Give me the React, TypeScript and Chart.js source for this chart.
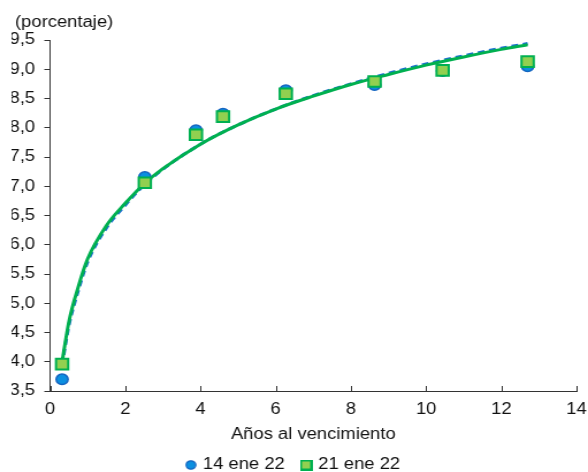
import { useEffect, useRef } from 'react';
import { Chart, registerables } from 'chart.js';

Chart.register(...registerables);

// Observed yields (porcentaje) vs years to maturity
const maturities = [0.32, 2.52, 3.88, 4.6, 6.27, 8.63, 10.44, 12.7];
const yields14Ene = [3.7, 7.16, 7.96, 8.24, 8.64, 8.73, 8.97, 9.05];
const yields21Ene = [3.96, 7.06, 7.88, 8.19, 8.58, 8.79, 8.98, 9.13];

// Fitted curves
const curveX = [0.32, 0.5, 0.75, 1, 1.5, 2, 2.5, 3, 4, 5, 6, 7, 8, 9, 10, 11, 12, 12.7];
const curve14Ene = [3.95, 4.62, 5.22, 5.71, 6.29, 6.68, 7.02, 7.29, 7.72, 8.05, 8.32, 8.55, 8.75, 8.93, 9.09, 9.23, 9.36, 9.44];
const curve21Ene = [4.0, 4.68, 5.28, 5.76, 6.33, 6.71, 7.04, 7.3, 7.72, 8.05, 8.32, 8.54, 8.74, 8.91, 9.07, 9.21, 9.34, 9.42];

const seriesLabels = ['14 ene 22', '21 ene 22'];
const yAxisNote = '(porcentaje)';
const xAxisTitle = 'Años al vencimiento';

const W = 511;
const H = 472;
const FONT = '"Liberation Sans", Arial, sans-serif';

const BLUE_FILL = '#0b8fe0';
const BLUE_EDGE = '#1565c0';
const GREEN_FILL = '#92d050';
const GREEN_EDGE = '#00b050';

const toPts = (xs: number[], ys: number[]) => xs.map((x, i) => ({ x, y: ys[i] }));

function makeIcon(kind: 'circle' | 'rect') {
  const c = document.createElement('canvas');
  const s = kind === 'circle' ? 10 : 11;
  c.width = s;
  c.height = s;
  const g = c.getContext('2d')!;
  if (kind === 'circle') {
    g.beginPath();
    g.arc(s / 2, s / 2, s / 2 - 0.8, 0, Math.PI * 2);
    g.fillStyle = BLUE_FILL;
    g.fill();
    g.lineWidth = 1.2;
    g.strokeStyle = BLUE_EDGE;
    g.stroke();
  } else {
    g.fillStyle = GREEN_FILL;
    g.fillRect(1, 1, s - 2, s - 2);
    g.lineWidth = 2;
    g.strokeStyle = GREEN_EDGE;
    g.strokeRect(1, 1, s - 2, s - 2);
  }
  return c;
}

export default function App() {
  const ref = useRef<HTMLCanvasElement>(null);

  useEffect(() => {
    const icons = [makeIcon('circle'), makeIcon('rect')];
    const extras = {
      id: 'extras',
      afterDraw(chart: any) {
        const { ctx, chartArea, scales } = chart;
        const xs = scales.x;
        ctx.save();
        ctx.strokeStyle = '#333';
        ctx.lineWidth = 1;
        xs.ticks.forEach((t: any) => {
          const px = Math.round(xs.getPixelForValue(t.value)) + 0.5;
          ctx.beginPath();
          ctx.moveTo(px, chartArea.bottom);
          ctx.lineTo(px, chartArea.bottom - 5);
          ctx.stroke();
        });
        ctx.fillStyle = '#111';
        ctx.font = `16px ${FONT}`;
        ctx.textBaseline = 'middle';
        ctx.textAlign = 'left';
        ctx.fillText(yAxisNote, 13, 23);
        ctx.restore();
      },
    };

    const chart = new Chart(ref.current!, {
      type: 'scatter',
      data: {
        datasets: [
          {
            label: seriesLabels[0],
            data: toPts(maturities, yields14Ene),
            pointStyle: 'circle',
            pointRadius: 5.2,
            pointBackgroundColor: BLUE_FILL,
            pointBorderColor: BLUE_EDGE,
            pointBorderWidth: 1.5,
            backgroundColor: BLUE_FILL,
            borderColor: BLUE_EDGE,
            borderWidth: 1.5,
            order: 1,
          },
          {
            label: seriesLabels[1],
            data: toPts(maturities, yields21Ene),
            pointStyle: 'rect',
            pointRadius: 7.5,
            pointBackgroundColor: GREEN_FILL,
            pointBorderColor: GREEN_EDGE,
            pointBorderWidth: 2,
            backgroundColor: GREEN_FILL,
            borderColor: GREEN_EDGE,
            borderWidth: 2,
            order: 0,
          },
          {
            label: 'curve14',
            data: toPts(curveX, curve14Ene),
            showLine: true,
            pointRadius: 0,
            borderColor: '#1a6fcc',
            borderWidth: 3,
            borderDash: [6, 4],
            cubicInterpolationMode: 'monotone',
            order: 3,
          } as any,
          {
            label: 'curve21',
            data: toPts(curveX, curve21Ene),
            showLine: true,
            pointRadius: 0,
            borderColor: GREEN_EDGE,
            borderWidth: 3,
            cubicInterpolationMode: 'monotone',
            order: 2,
          } as any,
        ],
      },
      options: {
        animation: false,
        responsive: false,
        devicePixelRatio: 1,
        layout: { padding: { top: 40, left: 10, right: 10, bottom: -11 } },
        scales: {
          x: {
            type: 'linear',
            min: 0,
            max: 14,
            ticks: {
              stepSize: 2,
              color: '#111',
              font: { family: FONT, size: 16 },
              padding: 9,
            },
            grid: { display: false, drawTicks: false },
            border: { display: true, color: '#333', width: 1 },
            title: {
              display: true,
              text: xAxisTitle,
              color: '#111',
              font: { family: FONT, size: 16 },
              padding: { top: 0, bottom: -3 },
            },
            afterFit: (s: any) => {
              s.height = 50;
              s.paddingLeft = 0;
              s.paddingRight = 0;
            },
          },
          y: {
            min: 3.5,
            max: 9.5,
            ticks: {
              stepSize: 0.5,
              color: '#111',
              font: { family: FONT, size: 16 },
              padding: 8,
              callback: (v: any) => Number(v).toFixed(1).replace('.', ','),
            },
            grid: { drawOnChartArea: false, drawTicks: true, tickLength: 5, color: '#333' },
            border: { display: true, color: '#333', width: 1 },
            afterFit: (s: any) => {
              s.width = 33.5;
              s.paddingTop = 0;
              s.paddingBottom = 0;
            },
          },
        },
        plugins: {
          legend: {
            position: 'bottom',
            labels: {
              usePointStyle: true,
              boxWidth: 5,
              boxHeight: 8,
              padding: 16,
              color: '#111',
              font: { family: FONT, size: 16 },
              generateLabels: (ch: any) => {
                const base = (Chart.defaults.plugins.legend.labels as any).generateLabels(ch);
                return base
                  .filter((it: any) => it.datasetIndex < 2)
                  .sort((a: any, b: any) => a.datasetIndex - b.datasetIndex)
                  .map((it: any) => ({ ...it, pointStyle: icons[it.datasetIndex] }));
              },
            },
          },
          tooltip: { enabled: false },
        },
      },
      plugins: [extras],
    } as any);
    return () => chart.destroy();
  }, []);

  return (
    <div style={{ position: 'absolute', left: 0, top: 0, width: 588, height: H, overflow: 'hidden', background: '#fff' }}>
      <div
        style={{
          width: W,
          height: H,
          transform: `scaleX(${588 / W})`,
          transformOrigin: '0 0',
        }}
      >
        <canvas ref={ref} width={W} height={H} style={{ display: 'block' }} />
      </div>
    </div>
  );
}
